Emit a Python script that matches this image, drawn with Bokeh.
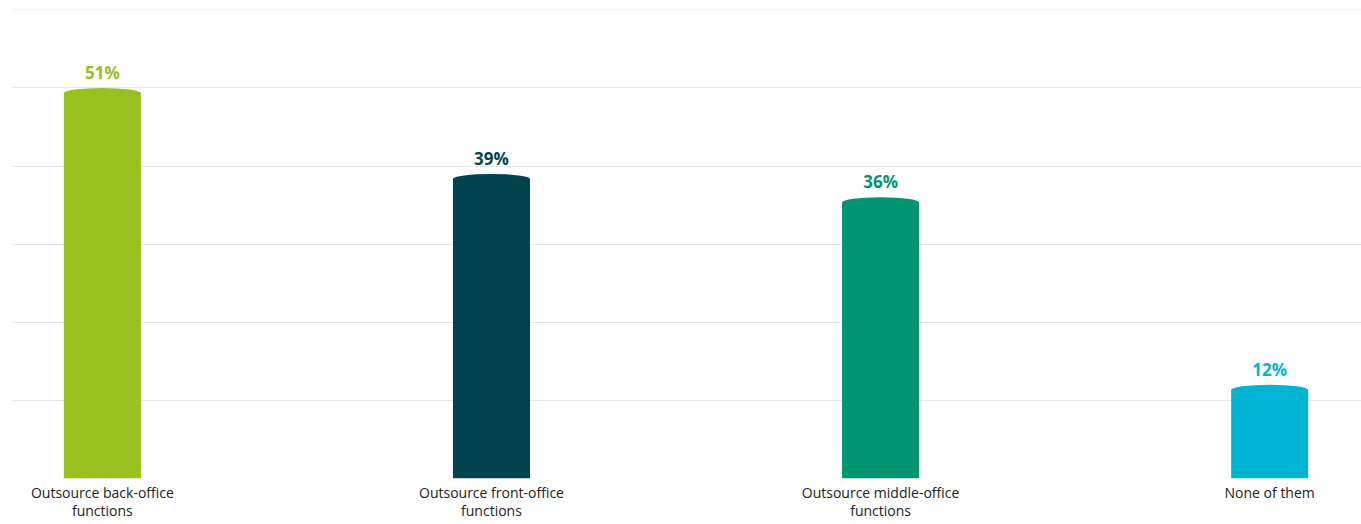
from bokeh.plotting import figure
from bokeh.models import Range1d, FixedTicker, ColumnDataSource, LabelSet
from bokeh.core.properties import value
from bokeh.embed import file_html
from bokeh.resources import INLINE

categories = ["Outsource back-office\nfunctions", "Outsource front-office\nfunctions",
              "Outsource middle-office\nfunctions", "None of them"]
values = [50, 39, 36, 12]
labels = ["51%", "39%", "36%", "12%"]
colors = ["#96C11F", "#01444F", "#009571", "#00B5D1"]

xs = list(range(len(categories)))
cap = 0.65
src = ColumnDataSource(dict(
    x=xs, top=[v - cap for v in values], ytop=values, label=labels, color=colors,
))

p = figure(width=1361, frame_height=469, output_backend="svg", toolbar_location=None,
           x_range=Range1d(-0.231, 3.236), y_range=Range1d(0, 60.05),
           min_border_left=12, min_border_right=0, min_border_top=9, min_border_bottom=40)
p.outline_line_color = None
p.background_fill_color = "white"
p.border_fill_color = "white"

p.vbar(x="x", top="top", bottom=0, width=0.198, fill_color="color", line_color=None, source=src)
p.ellipse(x="x", y="top", width=0.198, height=2 * cap, fill_color="color", line_color=None, source=src)

ls = LabelSet(x="x", y="ytop", text="label", source=src, text_align="center",
              text_baseline="alphabetic", y_offset=9, text_color="color",
              text_font=value("Open Sans"), text_font_style="bold", text_font_size="17px")
p.add_layout(ls)

p.yaxis.visible = False
p.ygrid.ticker = FixedTicker(ticks=[0, 10, 20, 30, 40, 50, 60])
p.ygrid.grid_line_color = "#E6E6E6"
p.ygrid.grid_line_width = 1
p.xgrid.grid_line_color = None

p.xaxis.ticker = FixedTicker(ticks=xs)
p.xaxis.major_label_overrides = {i: c for i, c in enumerate(categories)}
p.xaxis.axis_line_color = None
p.xaxis.major_tick_line_color = None
p.xaxis.major_tick_out = 0
p.xaxis.major_tick_in = 0
p.xaxis.minor_tick_line_color = None
p.xaxis.major_label_text_font = "Open Sans"
p.xaxis.major_label_text_font_size = "14px"
p.xaxis.major_label_text_line_height = 0.95
p.xaxis.major_label_text_color = "#222222"
p.xaxis.major_label_standoff = 4

open("out.html", "w").write(file_html(p, INLINE))
